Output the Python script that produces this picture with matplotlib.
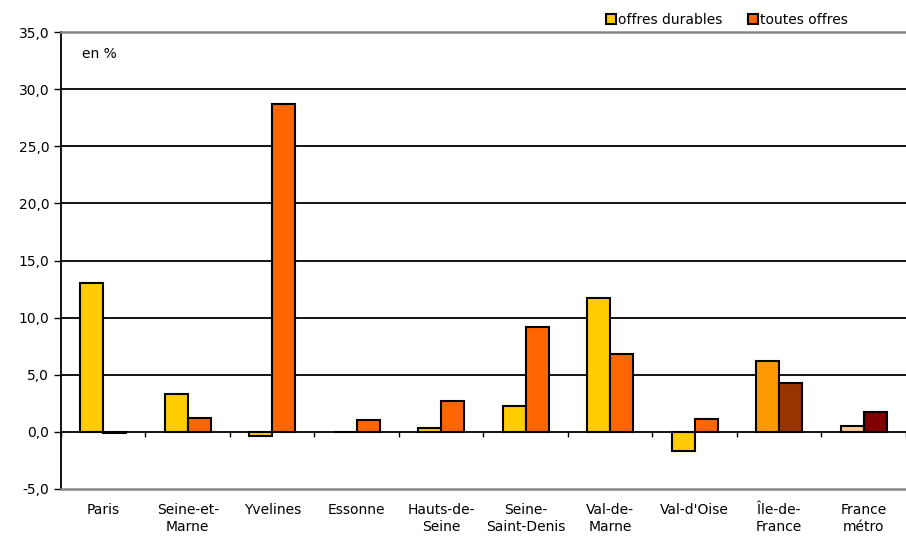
import numpy as np
import matplotlib.pyplot as plt
from matplotlib.patches import Patch

# data
categories = ["Paris", "Seine-et-\nMarne", "Yvelines", "Essonne", "Hauts-de-\nSeine",
              "Seine-\nSaint-Denis", "Val-de-\nMarne", "Val-d'Oise", "Île-de-\nFrance", "France\nmétro"]
durables = [13.0, 3.3, -0.4, 0.0, 0.3, 2.3, 11.7, -1.7, 6.2, 0.5]
toutes = [-0.1, 1.2, 28.7, 1.05, 2.7, 9.2, 6.8, 1.1, 4.3, 1.7]

col_dur = ["#FFCC00"] * 8 + ["#FF9900", "#FFCC99"]
col_tou = ["#FF6600"] * 8 + ["#993300", "#800000"]

fig = plt.figure(figsize=(9.06, 5.36), dpi=100)
ax = fig.add_axes([0.0673, 0.0877, 0.9327, 0.8523])

x = np.arange(len(categories))
w = 0.27
ax.bar(x - w / 2, durables, w, color=col_dur, edgecolor="black", linewidth=1.5, zorder=3)
ax.bar(x + w / 2, toutes, w, color=col_tou, edgecolor="black", linewidth=1.5, zorder=3)

ax.set_ylim(-5, 35)
ax.set_xlim(-0.5, len(categories) - 0.5)
yt = np.arange(-5, 36, 5)
ax.set_yticks(yt)
ax.set_yticklabels([f"{v:.1f}".replace(".", ",") for v in yt], fontsize=10)
for v in range(0, 35, 5):
    ax.axhline(v, color="black", linewidth=1.3, zorder=1)
ax.vlines(np.arange(len(categories) + 1) - 0.5, -0.45, 0, color="black", linewidth=1, zorder=2)

ax.set_xticks(x)
ax.set_xticklabels(categories, fontsize=10, linespacing=1.3)
ax.tick_params(axis="x", length=0, pad=10)
ax.tick_params(axis="y", length=5, width=1)

ax.spines["left"].set_linewidth(1.3)
ax.spines["top"].set_color("#888888")
ax.spines["top"].set_linewidth(1.8)
ax.spines["bottom"].set_color("#888888")
ax.spines["bottom"].set_linewidth(1.8)
ax.spines["right"].set_visible(False)

ax.text(0.025, 0.968, "en %", transform=ax.transAxes, fontsize=10, va="top")

handles = [Patch(facecolor="#FFCC00", edgecolor="black", linewidth=1.5, label="offres durables"),
           Patch(facecolor="#FF6600", edgecolor="black", linewidth=1.5, label="toutes offres")]
fig.legend(handles=handles, loc="upper right", bbox_to_anchor=(0.95, 1.0), ncol=2,
           frameon=False, fontsize=10, handlelength=0.7, handleheight=0.7,
           handletextpad=0.2, columnspacing=1.8)

fig.savefig("out.png", dpi=100)
